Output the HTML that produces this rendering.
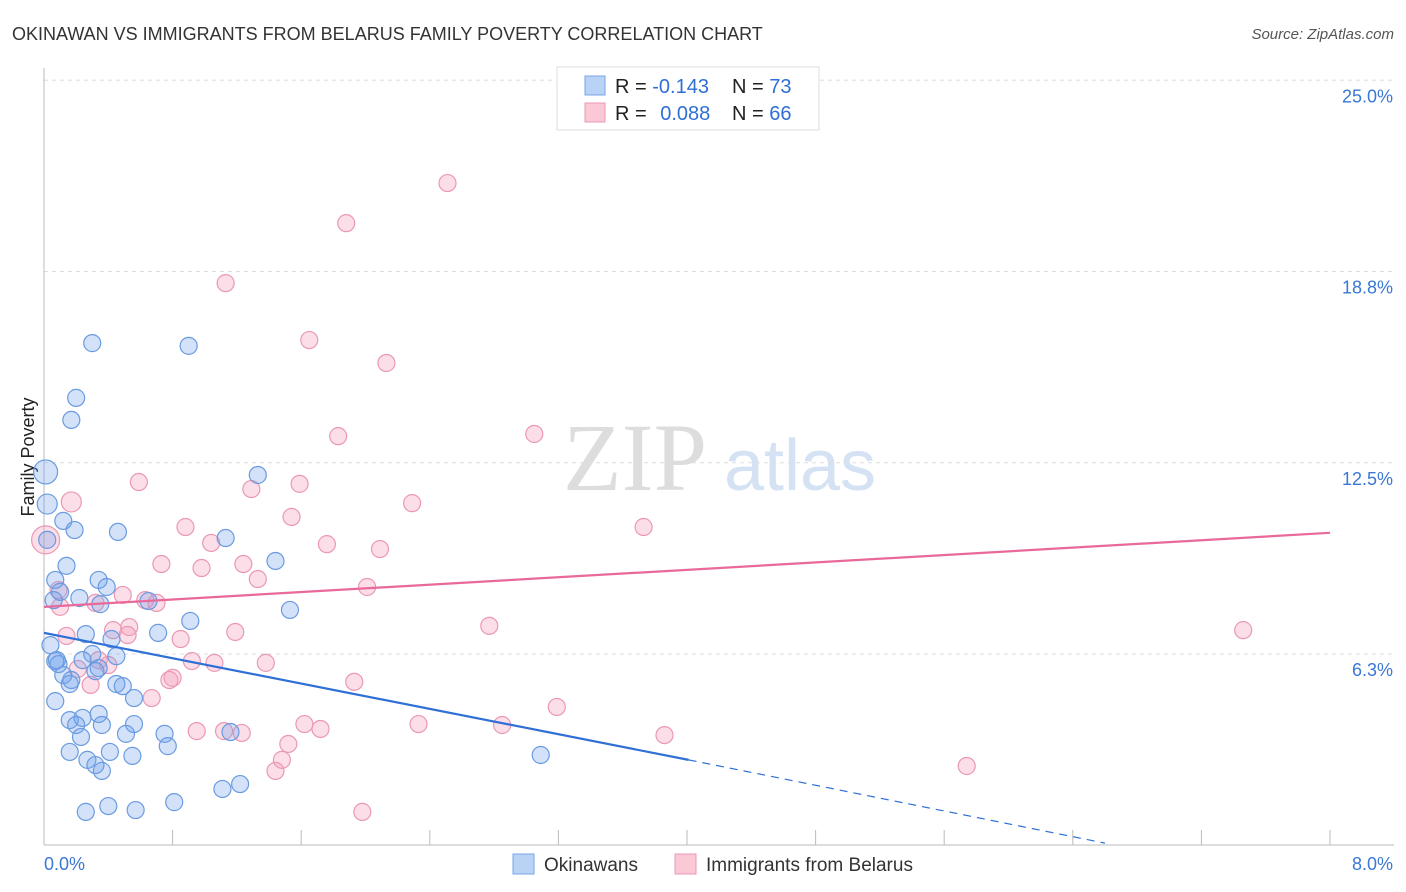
<!DOCTYPE html>
<html><head><meta charset="utf-8"><style>
body{margin:0;background:#fff;font-family:"Liberation Sans",sans-serif;}
svg{display:block}
</style></head><body>
<svg id="c" width="1406" height="892" xmlns="http://www.w3.org/2000/svg">
<text x="12" y="40" font-size="18" fill="#333">OKINAWAN VS IMMIGRANTS FROM BELARUS FAMILY POVERTY CORRELATION CHART</text>
<text x="1394" y="39" font-size="15" fill="#555" font-style="italic" text-anchor="end">Source: ZipAtlas.com</text>
<text x="34" y="457" font-size="18" fill="#222" text-anchor="middle" transform="rotate(-90 34 457)">Family Poverty</text>
<g><text x="635" y="490" font-size="96" fill="#ddd" font-family="Liberation Serif,serif" text-anchor="middle">ZIP</text><text x="800" y="490" font-size="72" fill="#d4e2f4" text-anchor="middle">atlas</text></g>
<g id="grid"></g><g id="axes"></g><g id="marks"></g>
<g>
<rect x="557" y="67" width="262" height="63" fill="#fff" stroke="#ddd"/>
<rect x="585" y="76" width="20" height="19" fill="#b8d3f5" stroke="#7aa6e6"/>
<rect x="585" y="103" width="20" height="19" fill="#fbc8d6" stroke="#eb98b4"/>
<text x="615" y="93" font-size="20" fill="#222">R = <tspan fill="#2f6fd6">-0.143</tspan></text>
<text x="732" y="93" font-size="20" fill="#222">N = <tspan fill="#2f6fd6">73</tspan></text>
<text x="615" y="120" font-size="20" fill="#222">R = <tspan fill="#2f6fd6" dx="8">0.088</tspan></text>
<text x="732" y="120" font-size="20" fill="#222">N = <tspan fill="#2f6fd6">66</tspan></text>
</g>
<g>
<rect x="513" y="854" width="21" height="20" fill="#b8d3f5" stroke="#7aa6e6"/>
<text x="544" y="871" font-size="19" fill="#333">Okinawans</text>
<rect x="675" y="854" width="21" height="20" fill="#fbc8d6" stroke="#eb98b4"/>
<text x="706" y="871" font-size="19" fill="#333">Immigrants from Belarus</text>
</g>
</svg>
<script>
const yTicks=[6.3,12.5,18.8,25.0];
const yTickVals=[6.25,12.5,18.75,25];
const blueX=[0.30,0.90,0.20,0.17,0.01,1.33,0.02,0.12,0.19,0.46,1.13,0.02,1.44,0.14,0.07,0.34,0.39,0.10,0.22,0.06,0.35,0.65,0.91,1.53,0.71,0.26,0.42,0.04,0.30,0.45,0.24,0.07,0.09,0.34,0.12,0.17,0.16,0.45,0.49,0.07,0.56,0.16,0.24,0.34,0.20,0.36,0.56,0.23,0.75,0.51,0.77,0.16,0.41,0.27,0.32,0.55,0.36,1.16,3.09,1.22,1.11,0.81,0.40,0.26,0.57,0.32,0.08];
const blueY=[16.41,16.32,14.62,13.90,12.20,12.10,11.15,10.60,10.30,10.24,10.04,9.98,9.29,9.13,8.67,8.67,8.44,8.28,8.08,8.01,7.88,7.98,7.33,7.69,6.94,6.90,6.74,6.54,6.25,6.18,6.05,6.02,5.92,5.79,5.56,5.40,5.27,5.27,5.20,4.71,4.81,4.09,4.16,4.29,3.93,3.93,3.96,3.54,3.64,3.64,3.24,3.05,3.05,2.79,2.62,2.92,2.43,3.70,2.95,2.00,1.84,1.41,1.28,1.09,1.15,5.69,6.05];
const pinkX=[2.51,1.88,1.13,1.65,2.13,3.05,1.83,0.59,1.59,1.29,0.17,2.29,1.54,0.88,3.73,0.01,1.04,1.76,2.09,0.73,1.24,0.98,1.33,2.01,0.09,0.49,0.63,0.70,0.32,0.10,2.77,7.46,0.53,0.14,0.85,1.19,0.52,0.43,0.92,1.06,1.38,0.40,0.34,0.21,0.80,0.78,0.29,0.67,1.93,3.19,2.33,2.85,1.62,0.95,1.12,1.23,1.72,3.86,1.52,1.48,1.44,5.74,1.98,3.77];
const pinkY=[21.64,20.33,18.37,16.51,15.76,13.44,13.37,11.87,11.81,11.64,11.22,11.18,10.73,10.40,10.40,9.98,9.88,9.84,9.68,9.19,9.19,9.06,8.70,8.44,8.34,8.18,8.01,7.92,7.92,7.79,7.17,7.03,7.13,6.84,6.74,6.97,6.87,7.03,6.02,5.96,5.96,5.89,6.05,5.76,5.47,5.40,5.24,4.81,5.34,4.52,3.96,3.93,3.96,3.73,3.73,3.67,3.80,3.60,3.31,2.79,2.43,2.59,1.09,24.0];
const blueTrend=[[0,6.94],[4.01,2.79]];
const blueDash=[[4.01,2.79],[6.6,0.07]];
const pinkTrend=[[0,7.79],[8,10.21]];
const NS="http://www.w3.org/2000/svg";
const xs=v=>44+v*160.75, ys=v=>654-(v-6.25)*30.6;
function mk(t,a,p){const e=document.createElementNS(NS,t);for(const k in a)e.setAttribute(k,a[k]);p.appendChild(e);return e;}
const grid=document.getElementById('grid'),axes=document.getElementById('axes'),marks=document.getElementById('marks');
yTickVals.forEach((v,i)=>{
 const l=mk('line',{x1:44,x2:1394,y1:ys(v),y2:ys(v),stroke:'#ddd','stroke-dasharray':'4,4'},grid);
 
 
 const t=mk('text',{x:1393,y:ys(v)+22,'font-size':18,fill:'#3a78d4','text-anchor':'end'},axes);t.textContent=yTicks[i].toFixed(1)+'%';
 
 
});
mk('line',{x1:44,x2:44,y1:68,y2:845,stroke:'#bbb'},axes);
mk('line',{x1:44,x2:1394,y1:845,y2:845,stroke:'#bbb'},axes);
for(let i=0;i<=10;i++){const x=xs(i*0.8);mk('line',{x1:x,x2:x,y1:830,y2:845,stroke:'#bbb'},axes);}
const t0=mk('text',{x:44,y:870,'font-size':18,fill:'#3a78d4'},axes);t0.textContent='0.0%';


const t1=mk('text',{x:1393,y:870,'font-size':18,fill:'#3a78d4','text-anchor':'end'},axes);t1.textContent='8.0%';


function dots(X,Y,fill,stroke,name,big){X.forEach((x,i)=>{
 const r=big[i]||8.5;
 const c=mk('circle',{cx:xs(x),cy:ys(Y[i]),r:r,fill:fill,stroke:stroke,'stroke-width':1.2},marks);
 
 
});}
dots(pinkX,pinkY,'rgba(244,160,190,0.35)','#eb98b4','belarus-point',{15:14,10:10});
dots(blueX,blueY,'rgba(110,160,235,0.3)','#6a9be0','okinawan-point',{4:12,6:10});
function line(p,col,dash,name){const l=mk('line',{x1:xs(p[0][0]),y1:ys(p[0][1]),x2:xs(p[1][0]),y2:ys(p[1][1]),stroke:col,'stroke-width':dash?1.2:2.2},marks);
 if(dash)l.setAttribute('stroke-dasharray','8,6');
 
 }
line(blueTrend,'#2f6fd6',false,'okinawan-trendline');
line(blueDash,'#2f6fd6',true,'okinawan-trend-extension');
line(pinkTrend,'#e8699a',false,'belarus-trendline');
</script>
</body></html>
